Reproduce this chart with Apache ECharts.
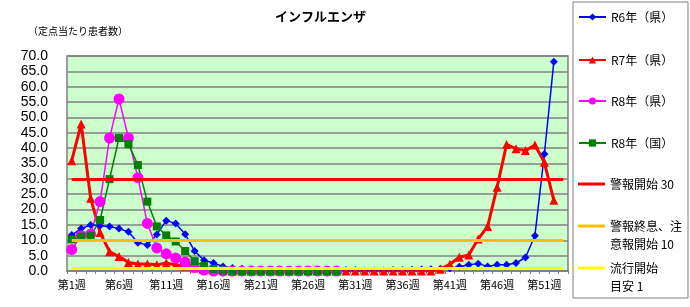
<!DOCTYPE html>
<html>
<head>
<meta charset="utf-8">
<script src="https://cdn.jsdelivr.net/npm/echarts@6/dist/echarts.min.js"></script>
<style>
html, body { margin: 0; padding: 0; background: #fff; }
#main { width: 690px; height: 307px; }
</style>
</head>
<body>
<div id="main"></div>
<script>
var weeks = [];
for (var i = 1; i <= 53; i++) weeks.push('第' + i + '週');

// 定点当たり患者数 (週1〜53)
var r6Pref = [11.7, 13.8, 15.0, 14.7, 14.5, 13.8, 12.8, 9.2, 8.5, 11.9,
	16.4, 15.5, 12.0, 6.5, 3.5, 2.6, 1.5, 1.0, 0.7, 0.5,
	0.4, 0.3, 0.3, 0.3, 0.2, 0.3, 0.3, 0.3, 0.4, 0.3,
	0.3, 0.2, 0.2, 0.2, 0.3, 0.3, 0.4, 0.5, 0.6, 0.7,
	0.9, 1.4, 2.0, 2.4, 1.5, 2.0, 2.0, 2.6, 4.4, 11.5,
	38.1, 68.1, null];
var r7Pref = [35.9, 47.9, 23.7, 12.5, 6.3, 4.7, 2.8, 2.3, 2.3, 2.0,
	2.6, 2.0, 1.6, 1.0, 0.6, 0.3, 0.2, 0, 0, 0,
	0, 0, 0, 0, 0, 0, 0, 0, 0, 0,
	0, 0, 0, 0, 0, 0, 0, 0, 0, 0.6,
	2.2, 4.5, 5.2, 10.4, 14.5, 27.3, 41.2, 39.8, 39.2, 41.0,
	35.4, 23.0, null];
var r8Pref = [7.0, 11.5, 12.0, 22.6, 43.3, 56.0, 43.3, 30.4, 15.5, 7.5,
	5.6, 4.2, 2.9, 1.2, 0.3, 0, 0, 0, 0, 0,
	0, 0, 0, 0, 0, 0, 0, 0, 0];
var r8Nation = [10.3, 11.2, 11.5, 16.6, 29.9, 43.3, 41.3, 34.5, 22.6, 14.5,
	11.6, 9.6, 6.5, 3.2, 1.6, 0.7, 0.2, 0, 0, 0,
	0, 0, 0, 0, 0, 0, 0, 0, 0];

var limitNames = ['警報開始 30', '警報終息、注意報開始 10', '流行開始目安 1'];
var limitValues = [30, 10, 1];
var limitColors = ['#FF0000', '#FFC000', '#FFFF00'];

var cjk = '"Noto Sans CJK JP", sans-serif';

function weekSeries(name, data, color, symbol, size, width) {
	return {
		name: name,
		type: 'line',
		data: data,
		symbol: symbol,
		symbolSize: size,
		showAllSymbol: true,
		itemStyle: { color: color },
		lineStyle: { color: color, width: width },
		emphasis: { disabled: true },
		animation: false
	};
}

function limitSeries(idx) {
	return {
		name: limitNames[idx],
		type: 'line',
		data: [],
		symbol: 'none',
		itemStyle: { color: limitColors[idx] },
		lineStyle: { color: limitColors[idx], width: 3 },
		animation: false,
		markLine: {
			silent: true,
			symbol: 'none',
			label: { show: false },
			animation: false,
			lineStyle: { color: limitColors[idx], width: 3, type: 'solid' },
			data: [[{ coord: [weeks[0], limitValues[idx]] }, { coord: [weeks[weeks.length - 1], limitValues[idx]] }]]
		}
	};
}

var legendText = {
	'警報終息、注意報開始 10': '\n警報終息、注\n意報開始 10',
	'流行開始目安 1': '\n流行開始\n目安 1'
};

function legendAt(name, top, plain) {
	var lg = {
		data: [name],
		left: 578,
		top: top,
		padding: 0,
		itemWidth: 27,
		itemHeight: 9,
		selectedMode: false,
		formatter: function(n) { return legendText[n] || n; },
		textStyle: { fontSize: 12, color: '#000', fontFamily: cjk, lineHeight: 18 }
	};
	if (plain) {
		// threshold lines: plain bar, no marker
		lg.data = [{ name: name, icon: 'rect' }];
		lg.itemHeight = 3;
		lg.top = top + 0;
	}
	return lg;
}

var myChart = echarts.init(document.getElementById('main'));
var option = {
	backgroundColor: '#fff',
	title: [{
		text: 'インフルエンザ',
		left: 275,
		top: 10,
		padding: 0,
		textStyle: { fontSize: 13, fontWeight: 'bold', color: '#000', fontFamily: cjk }
	}, {
		text: '（定点当たり患者数）',
		left: 28,
		top: 26,
		padding: 0,
		textStyle: { fontSize: 10, fontWeight: 'normal', color: '#000', fontFamily: cjk }
	}],
	legend: [
		legendAt('R6年（県）', 8),
		legendAt('R7年（県）', 51),
		legendAt('R8年（県）', 92),
		legendAt('R8年（国）', 134),
		legendAt(limitNames[0], 175, true),
		legendAt(limitNames[1], 199, true),
		legendAt(limitNames[2], 241, true)
	],
	graphic: [{
		type: 'rect',
		shape: { x: 573, y: 2, width: 115, height: 296 },
		style: { fill: 'none', stroke: '#808080', lineWidth: 1 },
		silent: true
	}],
	grid: {
		left: 67,
		right: 122,
		top: 56,
		bottom: 36,
		show: true,
		backgroundColor: '#CCFFCC',
		borderColor: '#808080',
		borderWidth: 1.5
	},
	xAxis: {
		type: 'category',
		data: weeks,
		boundaryGap: true,
		axisLine: { lineStyle: { color: '#808080', width: 1.5 } },
		axisTick: { show: true, interval: 0, length: 3, lineStyle: { color: '#808080' } },
		axisLabel: { interval: 4, fontSize: 11, color: '#000', margin: 8, fontFamily: cjk }
	},
	yAxis: {
		type: 'value',
		min: 0,
		max: 70,
		interval: 5,
		axisLine: { show: false },
		axisTick: { show: false },
		axisLabel: {
			fontSize: 14,
			color: '#000',
			margin: 19,
			fontFamily: '"Liberation Sans", Arial, sans-serif',
			formatter: function(v) { return v.toFixed(1); }
		},
		splitLine: { lineStyle: { color: '#808080', width: 1.5 } }
	},
	series: [
		weekSeries('R6年（県）', r6Pref, '#0000FF', 'diamond', 8, 1.5),
		weekSeries('R7年（県）', r7Pref, '#FF0000', 'triangle', 9, 3),
		weekSeries('R8年（県）', r8Pref, '#FF00FF', 'circle', 11, 1.5),
		weekSeries('R8年（国）', r8Nation, '#008000', 'rect', 8, 1.5),
		limitSeries(0),
		limitSeries(1),
		limitSeries(2)
	]
};
myChart.setOption(option);
</script>
</body>
</html>
